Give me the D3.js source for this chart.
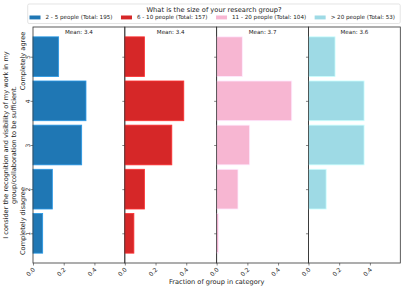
<!DOCTYPE html>
<html>
<head>
<meta charset="utf-8">
<script src="https://cdn.jsdelivr.net/npm/d3@7"></script>
<style>
  body { margin: 0; background: #fff; }
  text { font-family: "DejaVu Sans", sans-serif; fill: #222; }
</style>
</head>
<body>
<svg id="chart"></svg>
<script>
var groups = ["2 - 5 people", "6 - 10 people", "11 - 20 people", "> 20 people"]
var totals = [195, 157, 104, 53]
var means = ["3.4", "3.4", "3.7", "3.6"]
var levels = [1, 2, 3, 4, 5]
var frac_2_5 = [0.063, 0.126, 0.317, 0.345, 0.167]
var frac_6_10 = [0.059, 0.128, 0.306, 0.384, 0.128]
var frac_11_20 = [0.012, 0.139, 0.215, 0.489, 0.167]
var frac_20_plus = [0.0, 0.115, 0.362, 0.362, 0.173]
var colors = ["#1f77b4", "#d62728", "#f7b6d2", "#9edae5"]
var xticks = [0, 0.2, 0.4]
var title = "What is the size of your research group?"
var ylabel = ["I consider the recognition and visibility of my work in my", "group/collaboration to be sufficient."]
var xlabel = "Fraction of group in category"

var series = [frac_2_5, frac_6_10, frac_11_20, frac_20_plus]

var width = 407
var height = 291
var margin = {top: 27, right: 6.7, bottom: 28, left: 33}

var svg = d3.select("#chart")
    .attr("width", width)
    .attr("height", height)

var panel = d3.scaleBand()
    .domain(groups)
    .range([margin.left, width - margin.right])
    .paddingInner(0)

var x = d3.scaleLinear()
    .domain([0, 0.598])
    .range([0, panel.bandwidth()])

var y = d3.scaleLinear()
    .domain([0.327, 5.673])
    .range([height - margin.bottom, margin.top])

var barH = y(0) - y(0.9)

groups.forEach(function(name, gi) {
    var g = svg.append("g")
        .attr("transform", "translate(" + panel(name) + ",0)")

    g.selectAll("rect.bar")
        .data(series[gi])
        .enter()
        .append("rect")
        .attr("class", "bar")
        .attr("x", x(0))
        .attr("y", function(d, i) { return y(levels[i]) - barH / 2 })
        .attr("width", function(d) { return x(d) - x(0) })
        .attr("height", barH)
        .attr("fill", colors[gi])
        .attr("stroke", d3.color(colors[gi]).brighter(0.7))
        .attr("stroke-width", 0.8)

    var ya = g.append("g")
        .call(d3.axisLeft(y).tickValues(levels).tickSize(2.5)
            .tickFormat(gi == 0 ? d3.format("d") : ""))
    ya.select(".domain").remove()
    ya.selectAll("line").attr("stroke", "#333").attr("stroke-width", 0.6)
    ya.selectAll("text")
        .attr("x", 0)
        .attr("dy", null)
        .attr("text-anchor", "middle")
        .attr("transform", "translate(-3.3,0) rotate(-90)")
        .style("font-size", "6px")
        .style("font-family", "DejaVu Sans")
        .style("fill", "#222")

    var xa = g.append("g")
        .attr("transform", "translate(0," + (height - margin.bottom) + ")")
        .call(d3.axisBottom(x).tickValues(xticks).tickSize(2.5).tickFormat(d3.format(".1f")))
    xa.select(".domain").remove()
    xa.selectAll("line").attr("stroke", "#333").attr("stroke-width", 0.6)
    xa.selectAll("text")
        .attr("y", 0)
        .attr("dy", null)
        .attr("text-anchor", "end")
        .attr("transform", "translate(2,7) rotate(-45)")
        .style("font-size", "6px")
        .style("font-family", "DejaVu Sans")
        .style("fill", "#222")

    g.append("rect")
        .attr("x", 0)
        .attr("y", margin.top)
        .attr("width", panel.bandwidth())
        .attr("height", height - margin.bottom - margin.top)
        .attr("fill", "none")
        .attr("stroke", "#333")
        .attr("stroke-width", 0.8)

    g.append("text")
        .attr("x", panel.bandwidth() / 2)
        .attr("y", 33.7)
        .attr("text-anchor", "middle")
        .style("font-size", "5.6px")
        .text("Mean: " + means[gi])
})

// y labels
ylabel.forEach(function(line, i) {
    svg.append("text")
        .attr("transform", "translate(" + (6 + i * 8) + "," + (height - margin.bottom + margin.top) / 2 + ") rotate(-90)")
        .attr("dy", "0.35em")
        .attr("text-anchor", "middle")
        .style("font-size", "6.6px")
        .text(line)
})
svg.append("text")
    .attr("transform", "translate(22.5,61) rotate(-90)")
    .attr("dy", "0.35em")
    .attr("text-anchor", "middle")
    .style("font-size", "6.6px")
    .text("Completely agree")
svg.append("text")
    .attr("transform", "translate(22.5,221) rotate(-90)")
    .attr("dy", "0.35em")
    .attr("text-anchor", "middle")
    .style("font-size", "6.6px")
    .text("Completely disagree")

svg.append("text")
    .attr("x", (margin.left + width - margin.right) / 2)
    .attr("y", 284)
    .attr("text-anchor", "middle")
    .style("font-size", "6.6px")
    .text(xlabel)

// legend
var leg = svg.append("g")
leg.append("rect")
    .attr("x", 27.7)
    .attr("y", 4)
    .attr("width", 372.5)
    .attr("height", 19.5)
    .attr("rx", 1.5)
    .attr("fill", "#fff")
    .attr("stroke", "#d8d8d8")
    .attr("stroke-width", 0.7)
leg.append("text")
    .attr("x", 214)
    .attr("y", 11.8)
    .attr("text-anchor", "middle")
    .style("font-size", "6.7px")
    .text(title)

var lx = 29.5
groups.forEach(function(name, gi) {
    leg.append("rect")
        .attr("x", lx)
        .attr("y", 15.5)
        .attr("width", 11)
        .attr("height", 3.9)
        .attr("fill", colors[gi])
    var t = leg.append("text")
        .attr("x", lx + 16)
        .attr("y", 19.3)
        .style("font-size", "5.6px")
        .text(name + " (Total: " + totals[gi] + ")")
    lx = lx + 16 + t.node().getComputedTextLength() + 8.5
})
</script>
</body>
</html>
